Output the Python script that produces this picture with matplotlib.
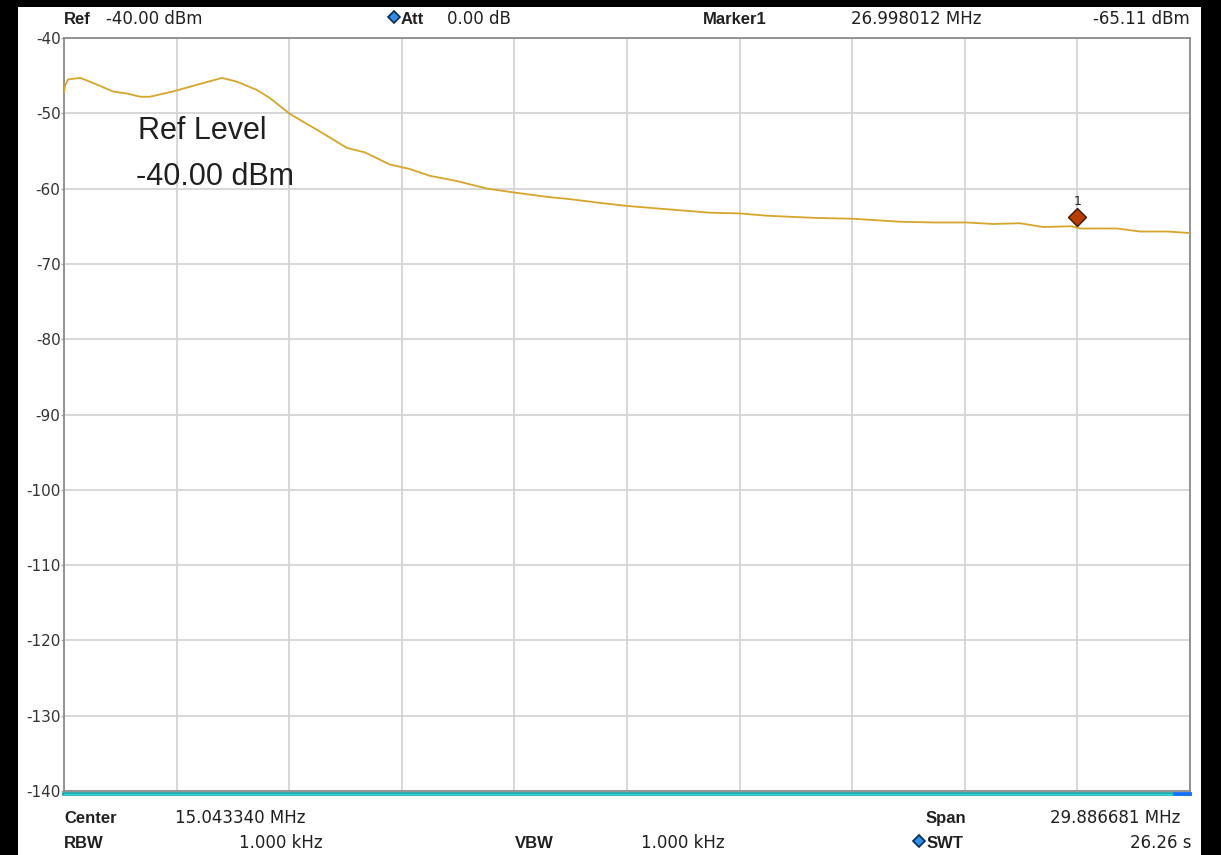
"""Spectrum analyzer screenshot: trace level vs. frequency."""

import matplotlib.pyplot as plt
from matplotlib.lines import Line2D
from matplotlib.patches import Rectangle

# sweep settings (MHz)
CENTER_MHZ = 15.043340
SPAN_MHZ = 29.886681

# trace
freq_mhz = [
    0.10, 0.13, 0.21, 0.53, 0.79, 1.40, 1.80, 2.12, 2.38, 2.99, 3.71, 4.29,
    4.69, 5.22, 5.57, 6.10, 6.82, 7.61, 8.09, 8.75, 9.28, 9.81, 10.53, 11.33,
    12.02, 12.92, 13.53, 14.33, 15.04, 16.00, 17.25, 18.04, 18.76, 20.09,
    21.04, 22.29, 23.17, 24.07, 24.76, 25.47, 26.09, 26.85, 27.07, 28.05,
    28.66, 29.38, 29.99,
]
level_dbm = [
    -47.2, -46.3, -45.5, -45.3, -45.8, -47.1, -47.4, -47.8, -47.8, -47.1,
    -46.1, -45.3, -45.8, -46.9, -48.0, -50.1, -52.2, -54.6, -55.2, -56.8,
    -57.4, -58.3, -59.0, -60.0, -60.5, -61.1, -61.4, -61.9, -62.3, -62.7,
    -63.2, -63.3, -63.6, -63.9, -64.0, -64.4, -64.5, -64.5, -64.7, -64.6,
    -65.1, -65.0, -65.3, -65.3, -65.7, -65.7, -65.9,
]

marker_freq = 26.998012
marker_level = -63.8
y_ticks = [-40, -50, -60, -70, -80, -90, -100, -110, -120, -130, -140]

W, H = 1221, 855
TRACE = "#d6a52a"
GRID = "#d4d4d4"
TEXT = "#202020"


def px(x, y):
    return x / W, 1 - y / H


def soft_key_diamond(fig, x, y):
    fig.add_artist(Line2D([x / W], [1 - y / H], marker="D", markersize=6.5,
                          markerfacecolor="#2f8fe6", markeredgecolor="#0a2a50",
                          markeredgewidth=1.2, transform=fig.transFigure))


def main() -> None:
    fig = plt.figure(figsize=(W / 100, H / 100), dpi=100, facecolor="black")
    fig.add_artist(Rectangle(px(18, 855), (1201 - 18) / W, (855 - 7) / H,
                             transform=fig.transFigure, facecolor="white",
                             edgecolor="none", zorder=0))

    ax = fig.add_axes([64 / W, 1 - 791 / H, (1190 - 64) / W, (791 - 38) / H])
    f0 = CENTER_MHZ - SPAN_MHZ / 2
    f1 = CENTER_MHZ + SPAN_MHZ / 2
    ax.set_xlim(f0, f1)
    ax.set_ylim(-140, -40)
    ax.set_xticks([f0 + i * SPAN_MHZ / 10 for i in range(11)])
    ax.set_xticklabels([])
    ax.set_yticks(y_ticks)
    ax.set_yticklabels([str(v) for v in y_ticks], fontsize=11, color="#333333",
                       family="DejaVu Sans")
    ax.tick_params(axis="x", length=0)
    ax.tick_params(axis="y", length=2, width=1, color="#aaaaaa", pad=0.5)
    ax.grid(True, color=GRID, linewidth=1.3)
    ax.set_axisbelow(True)
    for side in ["left", "right", "top", "bottom"]:
        ax.spines[side].set_color("#8c8c8c")
        ax.spines[side].set_linewidth(1.3)

    ax.plot(freq_mhz, level_dbm, color=TRACE, linewidth=1.3, zorder=3)

    # display line along the bottom
    ax.axhline(-140.4, color="#109c9c", linewidth=2.6, clip_on=False, zorder=4)
    ax.axhline(-140.4, color="#2ee0e0", linewidth=1.0, clip_on=False, zorder=5)
    ax.plot([f1 - 0.4, f1], [-140.4, -140.4], color="#1a6cff", linewidth=2.6,
            clip_on=False, zorder=6)

    # marker 1
    ax.plot([marker_freq], [marker_level], marker="D", markersize=9,
            markerfacecolor="#b63c00", markeredgecolor="#3a1a00",
            markeredgewidth=1, zorder=7)
    ax.text(marker_freq, marker_level + 1.2, "1", ha="center", va="bottom",
            fontsize=9, color=TEXT)

    fig.text(*px(138, 131), "Ref Level", fontsize=22, color=TEXT,
             family="Liberation Sans", va="center", ha="left")
    fig.text(*px(136, 177), "-40.00 dBm", fontsize=22, color=TEXT,
             family="Liberation Sans", va="center", ha="left")

    bold = dict(fontsize=12, fontweight="bold", color=TEXT,
                family="Liberation Sans", va="center")
    reg = dict(fontsize=12, color=TEXT, family="DejaVu Sans", va="center")

    # header
    fig.text(*px(64, 19), "Ref", **bold)
    fig.text(*px(106, 19), "-40.00 dBm", **reg)
    soft_key_diamond(fig, 394, 17)
    fig.text(*px(401, 19), "Att", **bold)
    fig.text(*px(447, 19), "0.00 dB", **reg)
    fig.text(*px(703, 19), "Marker1", **bold)
    fig.text(*px(851, 19), "26.998012 MHz", **reg)
    fig.text(*px(1190, 19), "-65.11 dBm", ha="right", **reg)

    # footer
    fig.text(*px(64, 818), "Center", **bold)
    fig.text(*px(175, 818), "15.043340 MHz", **reg)
    fig.text(*px(64, 843), "RBW", **bold)
    fig.text(*px(323, 843), "1.000 kHz", ha="right", **reg)
    fig.text(*px(515, 843), "VBW", **bold)
    fig.text(*px(641, 843), "1.000 kHz", **reg)
    fig.text(*px(926, 818), "Span", **bold)
    fig.text(*px(1050, 818), "29.886681 MHz", **reg)
    soft_key_diamond(fig, 919, 841)
    fig.text(*px(927, 843), "SWT", **bold)
    fig.text(*px(1130, 843), "26.26 s", **reg)

    # right-hand bezel covers overflowing text
    fig.add_artist(Rectangle(px(1201, 855), 20 / W, 1,
                             transform=fig.transFigure, facecolor="black",
                             edgecolor="none", zorder=20))

    fig.savefig("out.png", dpi=100, facecolor=fig.get_facecolor())
    plt.close(fig)


if __name__ == "__main__":
    main()
